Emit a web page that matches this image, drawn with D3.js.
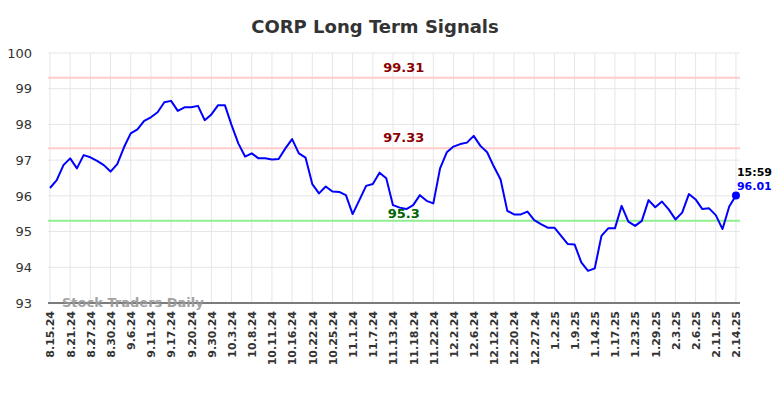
<!DOCTYPE html>
<html>
<head>
<meta charset="utf-8">
<script src="https://cdn.jsdelivr.net/npm/d3@7"></script>
<style>
  body { margin: 0; background: #fff; }
  svg { display: block; }
</style>
</head>
<body>
<div id="chart"></div>
<script>
var title = "CORP Long Term Signals";

// closing prices, one per plotted session
var prices = [
  96.22, 96.44, 96.86, 97.05, 96.77, 97.14, 97.08, 96.98, 96.86, 96.68,
  96.89, 97.36, 97.75, 97.86, 98.10, 98.20, 98.34, 98.62, 98.66, 98.38,
  98.48, 98.48, 98.52, 98.12, 98.28, 98.54, 98.54, 97.98, 97.47, 97.10,
  97.19, 97.05, 97.05, 97.02, 97.03, 97.33, 97.59, 97.19, 97.07, 96.33,
  96.07, 96.26, 96.12, 96.11, 96.02, 95.49, 95.88, 96.28, 96.33, 96.65,
  96.49, 95.74, 95.67, 95.63, 95.74, 96.02, 95.86, 95.79, 96.77, 97.22,
  97.38, 97.45, 97.49, 97.68, 97.40, 97.22, 96.82, 96.46, 95.58, 95.48,
  95.48, 95.56, 95.32, 95.21, 95.11, 95.11, 94.88, 94.65, 94.64, 94.14,
  93.90, 93.97, 94.88, 95.09, 95.09, 95.72, 95.28, 95.16, 95.30, 95.88,
  95.68, 95.84, 95.62, 95.34, 95.53, 96.05, 95.90, 95.63, 95.65, 95.46,
  95.07, 95.70, 96.01
];

// one label every third session
var tickLabels = [
  "8.15.24", "8.21.24", "8.27.24", "8.30.24", "9.6.24", "9.11.24", "9.17.24",
  "9.20.24", "9.30.24", "10.3.24", "10.8.24", "10.11.24", "10.16.24", "10.22.24",
  "10.25.24", "11.1.24", "11.7.24", "11.13.24", "11.18.24", "11.22.24", "12.2.24",
  "12.6.24", "12.12.24", "12.20.24", "12.27.24", "1.2.25", "1.9.25", "1.14.25",
  "1.17.25", "1.23.25", "1.29.25", "2.3.25", "2.6.25", "2.11.25", "2.14.25"
];
var tickStep = 3;

var yTicks = [93, 94, 95, 96, 97, 98, 99, 100];

var resistance = [99.31, 97.33];
var support = [95.3];

var lastTime = "15:59";

function onLoad() {

    var margin = { left: 48, top: 53, right: 44, bottom: 95 },
        width = 784 - margin.left - margin.right,
        height = 398 - margin.top - margin.bottom;

    // //////////////////////////////////////////////////////////
    // ///////// Scales /////////////////////////////////////////
    // //////////////////////////////////////////////////////////

    var x = d3.scaleLinear()
        .domain([-0.3, prices.length - 1 + 0.6])
        .range([0, width]);

    var y = d3.scaleLinear()
        .domain([93, 100])
        .range([height, 0]);

    var svg = d3.select("#chart").append("svg")
        .attr("width", 784)
        .attr("height", 398);

    svg.append("text")
        .attr("x", 375)
        .attr("y", 33)
        .attr("text-anchor", "middle")
        .style("font-family", "'DejaVu Sans', sans-serif")
        .style("font-weight", "bold")
        .style("font-size", "18px")
        .style("fill", "#333")
        .text(title);

    var g = svg.append("g")
        .attr("transform", "translate(" + margin.left + "," + margin.top + ")");

    // //////////////////////////////////////////////////////////
    // ///////// Grid ///////////////////////////////////////////
    // //////////////////////////////////////////////////////////

    g.selectAll("line.hgrid")
        .data(yTicks)
        .enter().append("line")
        .attr("class", "hgrid")
        .attr("x1", 0)
        .attr("x2", width)
        .attr("y1", function(d) { return y(d); })
        .attr("y2", function(d) { return y(d); })
        .style("stroke", "#e6e6e6")
        .style("stroke-width", 1);

    g.selectAll("line.vgrid")
        .data(tickLabels)
        .enter().append("line")
        .attr("class", "vgrid")
        .attr("x1", function(d, i) { return x(i * tickStep); })
        .attr("x2", function(d, i) { return x(i * tickStep); })
        .attr("y1", 0)
        .attr("y2", height)
        .style("stroke", "#e6e6e6")
        .style("stroke-width", 1);

    // y labels
    var yAxis = d3.axisLeft(y)
        .tickValues(yTicks)
        .tickSize(0)
        .tickPadding(16)
        .tickFormat(d3.format("d"));

    var ya = g.append("g").call(yAxis);
    ya.select(".domain").remove();
    ya.selectAll("text")
        .style("font-family", "'DejaVu Sans', sans-serif")
        .style("font-size", "13px")
        .style("fill", "#333");

    // x labels
    var xAxis = d3.axisBottom(x)
        .tickValues(d3.range(tickLabels.length).map(function(i) { return i * tickStep; }))
        .tickSize(0)
        .tickFormat(function(d) { return tickLabels[d / tickStep]; });

    var xa = g.append("g")
        .attr("transform", "translate(0," + height + ")")
        .call(xAxis);
    xa.select(".domain").remove();
    xa.selectAll("text")
        .attr("transform", "rotate(-90)")
        .attr("x", -8)
        .attr("y", 0)
        .attr("dy", "0.35em")
        .attr("text-anchor", "end")
        .style("font-family", "'DejaVu Sans', sans-serif")
        .style("font-weight", "bold")
        .style("font-size", "11px")
        .style("fill", "#333");

    // //////////////////////////////////////////////////////////
    // ///////// Signal lines ///////////////////////////////////
    // //////////////////////////////////////////////////////////

    var labelX = x(52.6);

    resistance.forEach(function(v) {
        g.append("line")
            .attr("x1", 0).attr("x2", width)
            .attr("y1", y(v)).attr("y2", y(v))
            .style("stroke", "#ffcccc")
            .style("stroke-width", 2);
        g.append("text")
            .attr("x", labelX)
            .attr("y", y(v) - 6)
            .attr("text-anchor", "middle")
            .style("font-family", "'DejaVu Sans', sans-serif")
            .style("font-weight", "bold")
            .style("font-size", "13px")
            .style("fill", "#8b0000")
            .text(v);
    });

    support.forEach(function(v) {
        g.append("line")
            .attr("x1", 0).attr("x2", width)
            .attr("y1", y(v)).attr("y2", y(v))
            .style("stroke", "#90ee90")
            .style("stroke-width", 2);
        g.append("text")
            .attr("x", labelX)
            .attr("y", y(v) - 3)
            .attr("text-anchor", "middle")
            .style("font-family", "'DejaVu Sans', sans-serif")
            .style("font-weight", "bold")
            .style("font-size", "13px")
            .style("fill", "#006400")
            .text(v);
    });

    // bottom axis line
    g.append("line")
        .attr("x1", 0).attr("x2", width)
        .attr("y1", height).attr("y2", height)
        .style("stroke", "#555")
        .style("stroke-width", 1.5);

    // watermark
    g.append("text")
        .attr("x", 14)
        .attr("y", height + 4)
        .style("font-family", "'DejaVu Sans', sans-serif")
        .style("font-weight", "bold")
        .style("font-size", "13px")
        .style("fill", "#999")
        .style("opacity", 0.9)
        .text("Stock Traders Daily");

    // //////////////////////////////////////////////////////////
    // ///////// Price line /////////////////////////////////////
    // //////////////////////////////////////////////////////////

    var line = d3.line()
        .x(function(d, i) { return x(i); })
        .y(function(d) { return y(d); });

    g.append("path")
        .datum(prices)
        .attr("d", line)
        .style("fill", "none")
        .style("stroke", "#0000ff")
        .style("stroke-width", 2)
        .style("stroke-linejoin", "round");

    var last = prices.length - 1;

    g.append("circle")
        .attr("cx", x(last))
        .attr("cy", y(prices[last]))
        .attr("r", 4)
        .style("fill", "#0000ff");

    g.append("text")
        .attr("x", x(last) + 1)
        .attr("y", y(prices[last]) - 20)
        .style("font-family", "'DejaVu Sans', sans-serif")
        .style("font-weight", "bold")
        .style("font-size", "11px")
        .style("fill", "#000")
        .text(lastTime);

    g.append("text")
        .attr("x", x(last) + 1)
        .attr("y", y(prices[last]) - 6)
        .style("font-family", "'DejaVu Sans', sans-serif")
        .style("font-weight", "bold")
        .style("font-size", "11px")
        .style("fill", "#0000ff")
        .text(prices[last]);
}

onLoad();
</script>
</body>
</html>
